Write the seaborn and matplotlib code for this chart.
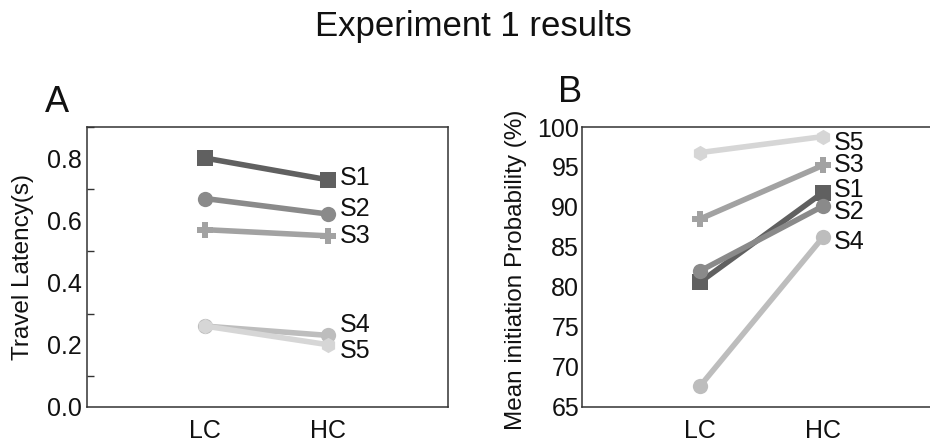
import matplotlib
matplotlib.use('Agg')
import matplotlib.pyplot as plt
from matplotlib.ticker import MultipleLocator
import seaborn as sns
import pandas as pd

# data
subjects = ['S1', 'S2', 'S3', 'S4', 'S5']
conditions = ['LC', 'HC']
latency_lc = [0.80, 0.67, 0.57, 0.26, 0.26]
latency_hc = [0.73, 0.62, 0.55, 0.23, 0.20]
prob_lc = [80.6, 82.0, 88.5, 67.6, 96.8]
prob_hc = [91.8, 90.1, 95.2, 86.2, 98.8]

# where the subject names sit next to the HC points
label_y_a = [0.735, 0.635, 0.55, 0.265, 0.18]
label_y_b = [92.1, 89.4, 95.3, 85.6, 98.0]

colors = {'S1': '#606060', 'S2': '#8a8a8a', 'S3': '#a2a2a2',
          'S4': '#bdbdbd', 'S5': '#d6d6d6'}
markers = {'S1': 's', 'S2': 'o', 'S3': 'P', 'S4': 'o', 'S5': 'h'}


def long_df(lc, hc):
    rows = []
    for s, a, b in zip(subjects, lc, hc):
        rows.append({'subject': s, 'x': 1, 'value': a})
        rows.append({'subject': s, 'x': 2, 'value': b})
    return pd.DataFrame(rows)


sns.set_style('white')
plt.rcParams['font.family'] = ['Liberation Sans', 'DejaVu Sans']

fig = plt.figure(figsize=(9.3, 4.42), dpi=100)
ax_a = fig.add_axes([87 / 930, 35 / 442, 361 / 930, 280 / 442])
ax_b = fig.add_axes([582 / 930, 35 / 442, 360 / 930, 280 / 442])


def draw(ax, df, ylim, labels_y):
    for s in subjects:
        sub = df[df['subject'] == s]
        sns.lineplot(data=sub, x='x', y='value', ax=ax, color=colors[s],
                     marker=markers[s], markersize=11, markeredgewidth=0,
                     linewidth=4, legend=False)
    for s, ly in zip(subjects, labels_y):
        ax.text(2.09, ly, s, fontsize=18, color='#111111', va='center', ha='left')
    ax.set_xlim(0.04, 2.97)
    ax.set_ylim(*ylim)
    ax.set_xticks([1, 2])
    ax.set_xticklabels(conditions)
    ax.set_xlabel('')
    for sp in ax.spines.values():
        sp.set_color('#333333')
        sp.set_linewidth(1.1)
    ax.tick_params(axis='both', which='both', direction='in', length=5,
                   width=1, color='#333333', labelsize=18, labelcolor='#111111')
    ax.tick_params(axis='y', pad=4)
    ax.tick_params(axis='x', pad=9)


draw(ax_a, long_df(latency_lc, latency_hc), (0, 0.9), label_y_a)
ax_a.set_yticks([0.0, 0.2, 0.4, 0.6, 0.8])
ax_a.yaxis.set_minor_locator(MultipleLocator(0.1))
ax_a.tick_params(axis='y', which='minor', left=True)
ax_a.set_ylabel('Travel Latency(s)', fontsize=17.5, color='#111111')
ax_a.yaxis.set_label_coords(-0.148, 0.5)

draw(ax_b, long_df(prob_lc, prob_hc), (65, 100), label_y_b)
ax_b.set_yticks(range(65, 101, 5))
ax_b.tick_params(axis='y', pad=2)
ax_b.set_ylabel('Mean initiation Probability (%)', fontsize=17.5, color='#111111')
ax_b.yaxis.set_label_coords(-0.152, 0.49)

fig.text(0.509, 0.939, 'Experiment 1 results', fontsize=25, ha='center',
         va='center', color='#111111')
fig.text(45 / 930, 1 - 112 / 442, 'A', fontsize=26, ha='left', va='baseline',
         color='#111111')
fig.text(558 / 930, 1 - 102 / 442, 'B', fontsize=26, ha='left', va='baseline',
         color='#111111')

fig.savefig('out.png', dpi=100)
